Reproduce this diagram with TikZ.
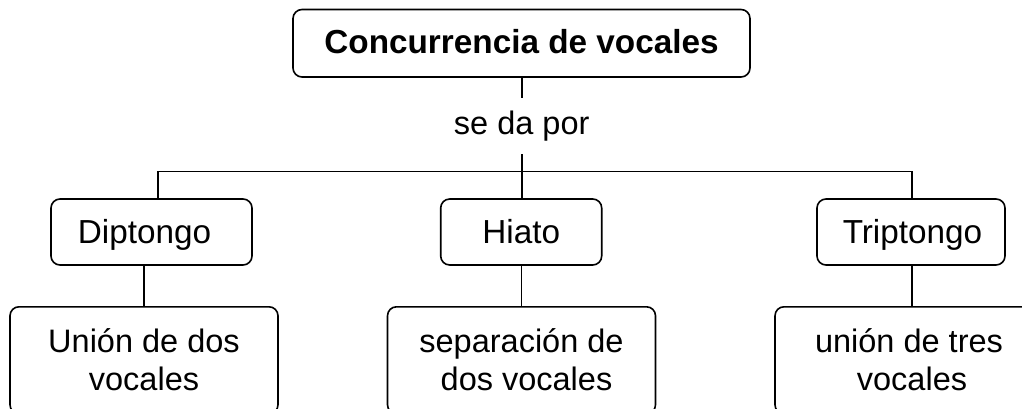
\documentclass[tikz,border=0pt]{standalone}
\usepackage{fontspec}
\setmainfont{Liberation Sans}
\tikzset{
  box/.style={draw, line width=1.6pt, rounded corners=9pt, inner sep=0pt, font=\fontsize{32.5}{38}\selectfont},
  topbox/.style={box, font=\fontsize{33.3}{38}\selectfont\bfseries, minimum width=457pt, minimum height=67.5pt, text height=25pt, text depth=3.5pt},
  midbox/.style={box, font=\fontsize{33.3}{38}\selectfont, minimum height=66pt, text height=26pt, text depth=4pt},
  lowbox/.style={box, align=center, minimum width=268pt, text height=84pt, text depth=23pt, anchor=north},
  conn/.style={line width=1.6pt},
  lbl/.style={inner sep=0pt, font=\fontsize{32.5}{38}\selectfont, minimum height=56pt}
}
\begin{document}
\begin{tikzpicture}[x=1pt,y=-1pt]
\useasboundingbox (0,0) rectangle (1022,409);
\clip (0,0) rectangle (1022,409);
\fill[white] (0,0) rectangle (1022,409);
\node[topbox] (top) at (521.5,43.25) {Concurrencia de vocales};
\node[lbl] (seda) at (521.7,126) {se da por};
\node[midbox, minimum width=201pt] (dip) at (151.5,232) {\hspace*{-14pt}Diptongo};
\node[midbox, minimum width=161pt] (hia) at (521.2,232) {Hiato};
\node[midbox, minimum width=188pt] (tri) at (911,232) {\hspace*{3pt}Triptongo};
\node[lowbox] (uni) at (144,306) {Unión de dos\\vocales};
\node[lowbox] (sep) at (521.5,306) {separación de\\\hspace*{10pt}dos vocales};
\node[lowbox] (tres) at (909,306) {unión de tres\\\hspace*{6pt}vocales};
\coordinate (jl) at (158,171.5);
\coordinate (jr) at (911.7,171.5);
\draw[conn] (top.south -| seda) -- (seda.north);
\draw[conn] (seda.south) -- (hia.north -| seda);
\draw[conn] (dip.north -| jl) |- (jr) -- (tri.north -| jr);
\draw[conn] (dip.south -| uni.north) -- (uni.north);
\draw[conn] (hia.south -| sep.north) -- (sep.north);
\draw[conn] (tri.south -| jr) -- (tres.north -| jr);
\end{tikzpicture}
\end{document}
